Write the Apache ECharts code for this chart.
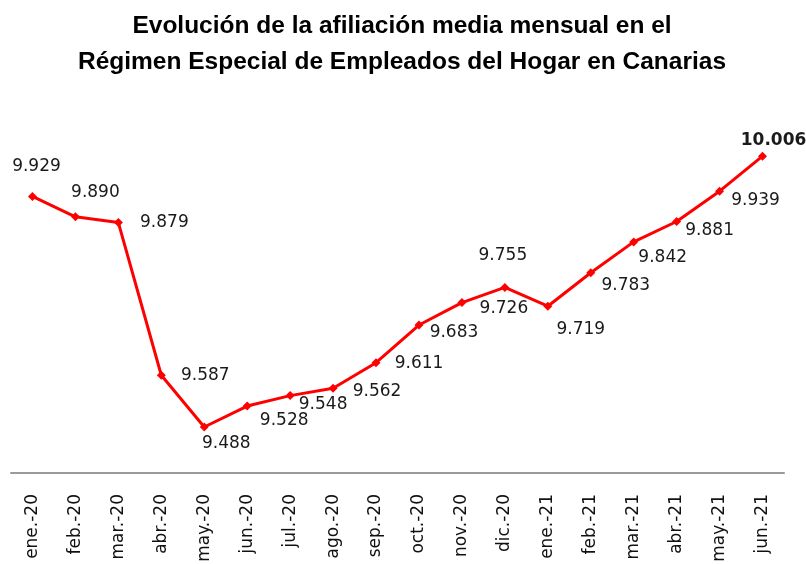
<!DOCTYPE html>
<html>
<head>
<meta charset="utf-8">
<script src="https://cdn.jsdelivr.net/npm/echarts@6/dist/echarts.min.js"></script>
<style>
html,body{margin:0;padding:0;background:#fff;}
#chart{width:806px;height:564px;}
</style>
</head>
<body>
<div id="chart"></div>
<script>
// Afiliación media mensual, Empleados del Hogar, Canarias
const months=[
    "ene.-20","feb.-20","mar.-20","abr.-20","may.-20","jun.-20",
    "jul.-20","ago.-20","sep.-20","oct.-20","nov.-20","dic.-20",
    "ene.-21","feb.-21","mar.-21","abr.-21","may.-21","jun.-21"
];

const afiliados=[
    9929,9890,9879,9587,9488,9528,
    9548,9562,9611,9683,9726,9755,
    9719,9783,9842,9881,9939,10006
];

const titleLines=[
    "Evolución de la afiliación media mensual en el",
    "Régimen Especial de Empleados del Hogar en Canarias"
];

// where each value label sits relative to its point (px)
const labelPlacement=[
    [4,-30],[20,-24],[46,0],[44,0],[22,17],[37,15],
    [33,9],[44,3],[43,1],[35,8],[42,6],[-2,-32],
    [33,23],[35,13],[29,16],[33,9],[36,9],[11,-16]
];

function fmt(v){
    return v.toString().replace(/\B(?=(\d{3})+(?!\d))/g,".");
}

const chart=echarts.init(document.getElementById("chart"));

const seriesData=afiliados.map((v,i)=>({
    value:v,
    label:{
        offset:labelPlacement[i],
        fontWeight:i===afiliados.length-1?"bold":"normal"
    }
}));

chart.setOption({
    backgroundColor:"#ffffff",
    animation:false,
    title:{
        text:titleLines.join("\n"),
        left:397,
        textAlign:"center",
        top:3,
        textStyle:{
            fontFamily:"Liberation Sans",
            fontWeight:"bold",
            fontSize:24.5,
            lineHeight:36,
            color:"#000"
        }
    },
    grid:{
        left:11,
        right:22,
        top:107,
        bottom:91,
        outerBoundsMode:"none"
    },
    xAxis:{
        type:"category",
        data:months,
        boundaryGap:true,
        axisLine:{lineStyle:{color:"#9a9a9a",width:2}},
        axisTick:{show:false},
        axisLabel:{
            rotate:90,
            margin:21,
            interval:0,
            fontFamily:"DejaVu Sans",
            fontSize:17,
            color:"#111"
        }
    },
    yAxis:{
        type:"value",
        min:9400,
        max:10100,
        show:false,
        splitLine:{show:false}
    },
    series:[{
        type:"line",
        data:seriesData,
        symbol:"diamond",
        symbolSize:9,
        showAllSymbol:true,
        lineStyle:{color:"#ff0000",width:3},
        itemStyle:{color:"#ff0000"},
        label:{
            show:true,
            position:"inside",
            fontFamily:"DejaVu Sans",
            fontSize:17,
            color:"#1a1a1a",
            formatter:p=>fmt(p.value)
        }
    }]
});
</script>
</body>
</html>
